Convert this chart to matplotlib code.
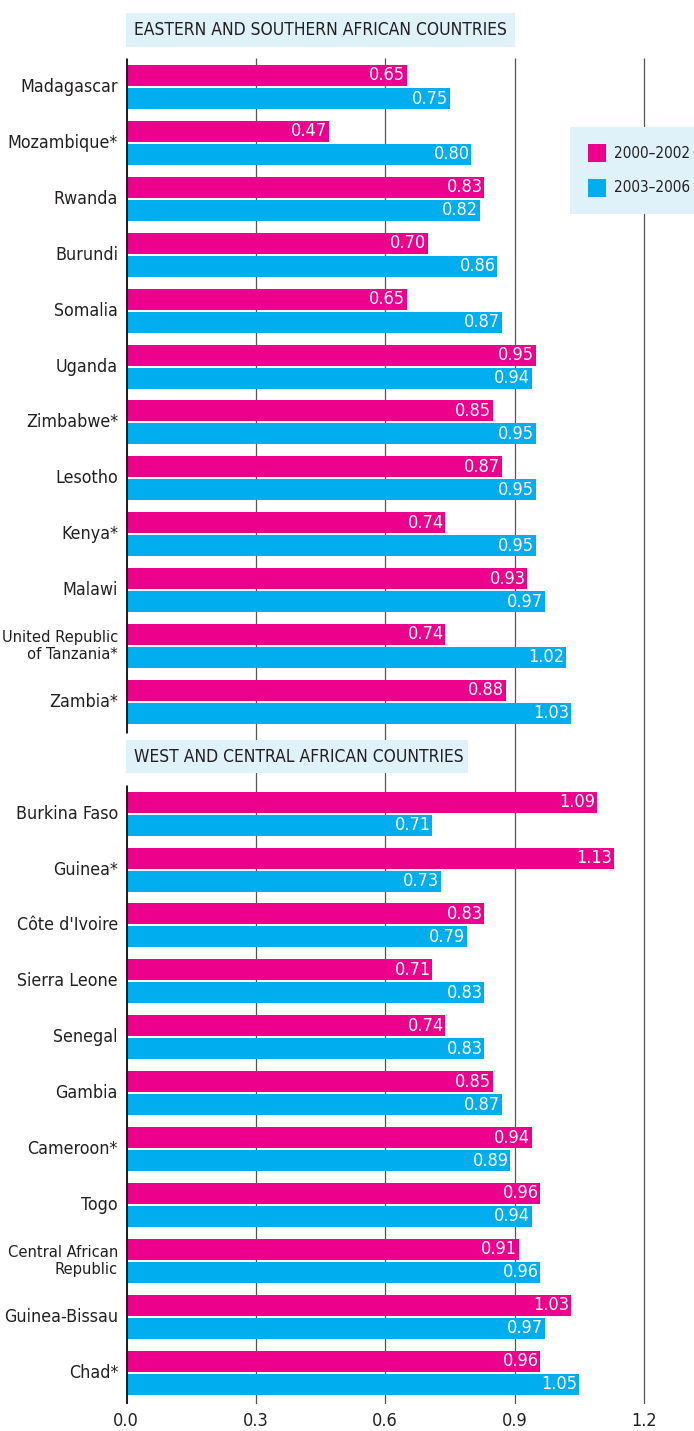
import matplotlib
matplotlib.use('Agg')
import matplotlib.pyplot as plt
from matplotlib.patches import Rectangle

plt.rcParams['font.family'] = ['DejaVu Sans']
plt.rcParams['font.stretch'] = 'condensed'

# Data
east_countries = ['Madagascar', 'Mozambique*', 'Rwanda', 'Burundi', 'Somalia', 'Uganda',
                  'Zimbabwe*', 'Lesotho', 'Kenya*', 'Malawi', 'United Republic\nof Tanzania*', 'Zambia*']
east_2000 = [0.65, 0.47, 0.83, 0.70, 0.65, 0.95, 0.85, 0.87, 0.74, 0.93, 0.74, 0.88]
east_2003 = [0.75, 0.80, 0.82, 0.86, 0.87, 0.94, 0.95, 0.95, 0.95, 0.97, 1.02, 1.03]

west_countries = ['Burkina Faso', 'Guinea*', "Côte d'Ivoire", 'Sierra Leone', 'Senegal', 'Gambia',
                  'Cameroon*', 'Togo', 'Central African\nRepublic', 'Guinea-Bissau', 'Chad*']
west_2000 = [1.09, 1.13, 0.83, 0.71, 0.74, 0.85, 0.94, 0.96, 0.91, 1.03, 0.96]
west_2003 = [0.71, 0.73, 0.79, 0.83, 0.83, 0.87, 0.89, 0.94, 0.96, 0.97, 1.05]

sections = ['EASTERN AND SOUTHERN AFRICAN COUNTRIES', 'WEST AND CENTRAL AFRICAN COUNTRIES']
series_labels = ['2000\u20132002', '2003\u20132006']
xticks = [0.0, 0.3, 0.6, 0.9, 1.2]

MAGENTA = '#EC008C'
CYAN = '#00AEEF'
PALE = '#DFF1F9'
TEXT = '#231F20'

W, H = 694, 1431
fig = plt.figure(figsize=(W / 100, H / 100), dpi=100)
# axes spans from zero line (x=126) to the right edge, top of figure down to x-axis
ax = fig.add_axes([126 / W, (H - 1404) / H, (W - 126) / W, 1404 / H])
px_per_unit = 431.67
ax.set_xlim(0, (W - 126) / px_per_unit)
row = 55.9
ax.set_ylim((1404 - 87) / row, -87 / row)
for s in ax.spines.values():
    s.set_visible(False)
ax.set_yticks([])
ax.set_xticks(xticks)
ax.set_xticklabels([f'{t:.1f}' for t in xticks], fontsize=13, color=TEXT, fontstretch='condensed')
ax.tick_params(axis='x', length=0, pad=6)

groups = [(sections[0], east_countries, east_2000, east_2003, 0),
          (sections[1], west_countries, west_2000, west_2003, len(east_countries) + 1)]

bar_h = 21 / row
off = 11.5 / row
ymin_all = -29 / row
ymax_all = (1404 - 87) / row
fs = 13

# grid lines
for t in xticks[1:]:
    ax.vlines(t, ymin_all, ymax_all, color='#555555', lw=0.9, zorder=0)

for title, names, v1, v2, start in groups:
    ys = [start + i for i in range(len(names))]
    ax.barh([y - off for y in ys], v1, height=bar_h, color=MAGENTA, zorder=2)
    ax.barh([y + off for y in ys], v2, height=bar_h, color=CYAN, zorder=2)
    for y, a, b, name in zip(ys, v1, v2, names):
        ax.text(a - 0.004, y - off, f'{a:.2f}', ha='right', va='center', color='white', fontsize=fs,
                fontstretch='condensed', zorder=3)
        ax.text(b - 0.004, y + off, f'{b:.2f}', ha='right', va='center', color='white', fontsize=fs,
                fontstretch='condensed', zorder=3)
        ax.text(-8 / px_per_unit, y, name, ha='right', va='center', color=TEXT, fontstretch='condensed',
                fontsize=11.8 if '\n' in name else 12.8, linespacing=1.15, clip_on=False)
    # header box
    hy = start - 1.02
    hw = (389 if start == 0 else 342) / px_per_unit
    ax.add_patch(Rectangle((0, hy - 0.3), hw, 0.6, color=PALE, zorder=4, lw=0))
    ax.text(8 / px_per_unit, hy, title, ha='left', va='center', color=TEXT, fontsize=12.5,
            fontstretch='condensed', zorder=5)
    # left axis line for the section
    top = start - 0.52
    bottom = ys[-1] + 0.56 if start == 0 else ymax_all
    ax.vlines(0, top, bottom, color=TEXT, lw=2.2, zorder=6)

# legend
lx0 = 444 / px_per_unit
ax.add_patch(Rectangle((lx0, 40 / row), (W - 570) / px_per_unit, 87 / row, color=PALE, zorder=4, lw=0, clip_on=False))
for k, (lab, col) in enumerate(zip(series_labels, [MAGENTA, CYAN])):
    cy = (66 + 35 * k) / row
    ax.add_patch(Rectangle((462 / px_per_unit, cy - 9 / row), 18 / px_per_unit, 18 / row, color=col, zorder=5, lw=0))
    ax.text(488 / px_per_unit, cy, lab, ha='left', va='center', color=TEXT, fontsize=11,
            fontstretch='condensed', zorder=5)

fig.savefig('out.png', dpi=100)
